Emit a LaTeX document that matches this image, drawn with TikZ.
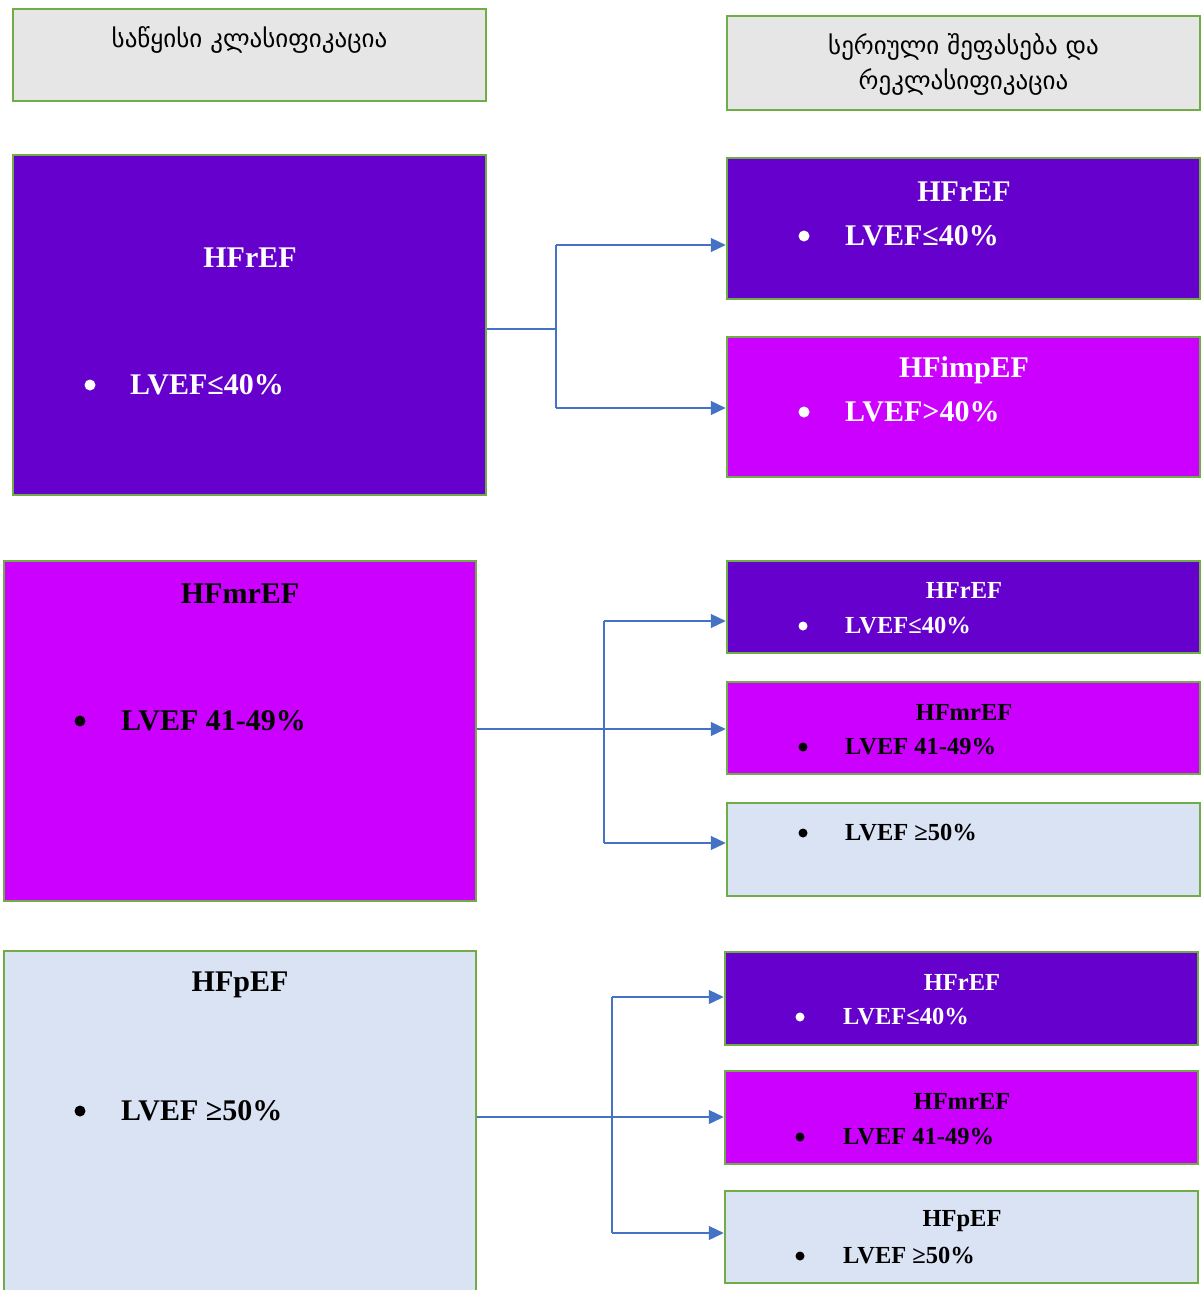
\documentclass[tikz,border=0pt]{standalone}
\usepackage{fontspec}
\setmainfont{Liberation Serif}
\newfontfamily\geofont{DejaVu Sans}
\usetikzlibrary{arrows.meta,positioning}
\definecolor{hfr}{HTML}{6600CC}
\definecolor{hfmr}{HTML}{CC00FF}
\definecolor{hfp}{HTML}{DAE3F3}
\definecolor{hdr}{HTML}{E6E6E6}
\definecolor{edge}{HTML}{70AD47}
\definecolor{arr}{HTML}{4472C4}

\begin{document}
\begin{tikzpicture}[x=1pt,y=-1pt,>={Triangle[length=15pt,width=14pt]}]
\tikzstyle{bx}=[draw=edge,line width=2.5pt,minimum width=473pt]
\tikzstyle{hd}=[font=\geofont\fontsize{25}{35}\selectfont,align=center,inner sep=0pt]
\tikzstyle{big}=[font=\fontsize{30}{34}\selectfont\bfseries,inner sep=0pt]
\tikzstyle{sm}=[font=\fontsize{24.5}{28}\selectfont\bfseries,inner sep=0pt]
\tikzstyle{dot}=[circle,fill,inner sep=0pt,minimum size=11pt]
\tikzstyle{ln}=[draw=arr,line width=1.2pt]
\clip (0,0) rectangle (1201,1290);
% headers
\node[bx,fill=hdr,minimum height=92pt] (h1) at (249.5,55) {};
\node[hd] (h1t) at (249.5,40) {საწყისი კლასიფიკაცია};
\node[bx,fill=hdr,minimum height=94pt] (h2) at (963.5,63) {};
\node[hd] (h2t) at (963.5,64) {სერიული შეფასება და\\რეკლასიფიკაცია};
% HFrEF
\node[bx,fill=hfr,minimum height=340pt] (b1) at (249.5,325) {};
\node[big,white] (b1h) at (250,258) {HFrEF};
\node[dot,white] (b1d) at (90,385) {};
\node[big,white,anchor=west] (b1l) at (130,385) {LVEF≤40\%};
\node[bx,fill=hfr,minimum height=141pt] (r1a) at (963.5,228.5) {};
\node[big,white] (r1ah) at (964,192) {HFrEF};
\node[dot,white] (r1ad) at (804,236) {};
\node[big,white,anchor=west] (r1al) at (845,236) {LVEF≤40\%};
\node[bx,fill=hfmr,minimum height=140pt] (r1b) at (963.5,407) {};
\node[big,white] (r1bh) at (964,370) {HFimpEF};
\node[dot,white] (r1bd) at (804,412) {};
\node[big,white,anchor=west] (r1bl) at (845,412) {LVEF>40\%};
\coordinate (s1) at (556,329); \coordinate (t1) at (556,245); \coordinate (u1) at (556,408);
\draw[ln] (b1.east |- s1) -- (s1);
\draw[ln] (t1) -- (u1);
\draw[ln,->] (t1) -- (t1 -| r1a.west);
\draw[ln,->] (u1) -- (u1 -| r1b.west);
% HFmrEF
\node[bx,fill=hfmr,minimum width=472pt,minimum height=340pt] (b2) at (240,731) {};
\node[big] (b2h) at (240,594) {HFmrEF};
\node[dot] (b2d) at (80,721) {};
\node[big,anchor=west] (b2l) at (121,721) {LVEF 41-49\%};
\node[bx,fill=hfr,minimum height=92pt] (r2a) at (963.5,607) {};
\node[sm,white] (r2ah) at (964,590) {HFrEF};
\node[dot,white,minimum size=9pt] (r2ad) at (803,626) {};
\node[sm,white,anchor=west] (r2al) at (845,626) {LVEF≤40\%};
\node[bx,fill=hfmr,minimum height=92pt] (r2b) at (963.5,728) {};
\node[sm] (r2bh) at (964,712) {HFmrEF};
\node[dot,minimum size=9pt] (r2bd) at (803,747) {};
\node[sm,anchor=west] (r2bl) at (845,747) {LVEF 41-49\%};
\node[bx,fill=hfp,minimum height=93pt] (r2c) at (963.5,849.5) {};
\node[dot,minimum size=9pt] (r2cd) at (803,833) {};
\node[sm,anchor=west] (r2cl) at (845,833) {LVEF ≥50\%};
\coordinate (s2) at (604,729); \coordinate (t2) at (604,621); \coordinate (u2) at (604,843);
\draw[ln,->] (b2.east |- s2) -- (s2 -| r2b.west);
\draw[ln] (t2) -- (u2);
\draw[ln,->] (t2) -- (t2 -| r2a.west);
\draw[ln,->] (u2) -- (u2 -| r2c.west);
% HFpEF
\node[bx,fill=hfp,minimum width=472pt,minimum height=358pt] (b3) at (240,1130) {};
\node[big] (b3h) at (240,985) {HFpEF};
\node[dot] (b3d) at (80,1111) {};
\node[big,anchor=west] (b3l) at (121,1111) {LVEF ≥50\%};
\node[bx,fill=hfr,minimum height=93pt] (r3a) at (961.5,998.5) {};
\node[sm,white] (r3ah) at (962,982) {HFrEF};
\node[dot,white,minimum size=9pt] (r3ad) at (800,1017) {};
\node[sm,white,anchor=west] (r3al) at (843,1017) {LVEF≤40\%};
\node[bx,fill=hfmr,minimum height=93pt] (r3b) at (961.5,1117.5) {};
\node[sm] (r3bh) at (962,1101) {HFmrEF};
\node[dot,minimum size=9pt] (r3bd) at (800,1137) {};
\node[sm,anchor=west] (r3bl) at (843,1137) {LVEF 41-49\%};
\node[bx,fill=hfp,minimum height=92pt] (r3c) at (961.5,1237) {};
\node[sm] (r3ch) at (962,1221) {HFpEF};
\node[dot,minimum size=9pt] (r3cd) at (800,1256) {};
\node[sm,anchor=west] (r3cl) at (843,1256) {LVEF ≥50\%};
\coordinate (s3) at (612,1117); \coordinate (t3) at (612,997); \coordinate (u3) at (612,1233);
\draw[ln,->] (b3.east |- s3) -- (s3 -| r3b.west);
\draw[ln] (t3) -- (u3);
\draw[ln,->] (t3) -- (t3 -| r3a.west);
\draw[ln,->] (u3) -- (u3 -| r3c.west);
\end{tikzpicture}
\end{document}
